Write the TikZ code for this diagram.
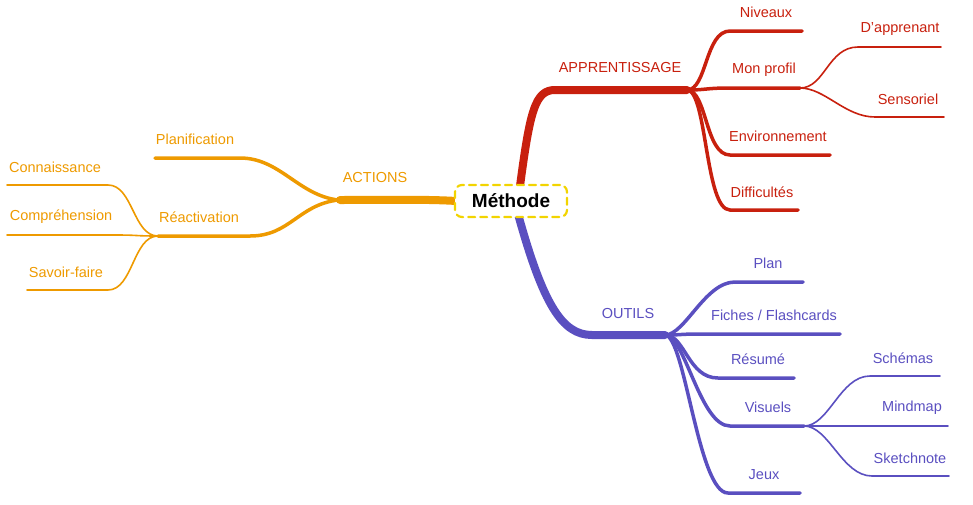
\documentclass[tikz,border=0pt]{standalone}
\usepackage{fontspec}
\setmainfont{Liberation Sans}
\definecolor{rd}{HTML}{C8200E}
\definecolor{og}{HTML}{EE9A00}
\definecolor{pu}{HTML}{5A4FC0}
\definecolor{yl}{HTML}{F2D400}
\begin{document}
\begin{tikzpicture}[x=1pt,y=-1pt,line cap=round,
 lbl/.style={font=\fontsize{14.5}{17}\selectfont,inner sep=1pt},
 main/.style={line width=8pt},
 sub/.style={line width=3.5pt},
 leaf/.style={line width=1.6pt}]
\useasboundingbox (0,0) rectangle (973,504);
\coordinate (cR) at (520,186); \coordinate (cO) at (456,201); \coordinate (cP) at (518,214);
\coordinate (aR) at (555,90); \coordinate (hR) at (687,90);
\coordinate (aO) at (340,200); \coordinate (hO) at (338,200);
\coordinate (aP) at (592,335); \coordinate (hP) at (665,335);
% RED
\draw[rd,main] (cR) .. controls +(10,-75) and +(-20,0) .. (aR) -- (hR);
\node[lbl,rd] (tApp) at (620,68) {APPRENTISSAGE};
\foreach \n/\y/\e/\tx/\ty/\t in {niv/31/802/766/12/Niveaux,mon/88/800/764/70/Mon profil,env/155/830/778/136/Environnement,dif/210/798/762/192/Difficultés}{
 \coordinate (s\n) at (730,\y); \coordinate (e\n) at (\e,\y);
 \draw[rd,sub] (hR) .. controls +(20,0) and +(-25,0) .. (s\n) -- (e\n);
 \node[lbl,rd] (t\n) at (\tx,\ty) {\t};}
\foreach \n/\x/\y/\e/\tx/\ty/\t in {dap/858/47/941/900/29/D'apprenant,sen/875/117/944/908/99/Sensoriel}{
 \coordinate (s\n) at (\x,\y); \coordinate (e\n) at (\e,\y);
 \draw[rd,leaf] (emon) .. controls +(25,0) and +(-30,0) .. (s\n) -- (e\n);
 \node[lbl,rd] (t\n) at (\tx,\ty) {\t};}
% ORANGE
\draw[og,main] (cO) .. controls +(-30,-2) and +(30,0) .. (aO);
\node[lbl,og] (tAct) at (375,178) {ACTIONS};
\coordinate (sPl) at (240,158); \coordinate (ePl) at (155,158);
\coordinate (sRe) at (250,236); \coordinate (eRe) at (158,236);
\draw[og,sub] (hO) .. controls +(-40,-5) and +(40,0) .. (sPl) -- (ePl);
\draw[og,sub] (hO) .. controls +(-40,5) and +(40,0) .. (sRe) -- (eRe);
\node[lbl,og] (tPl) at (195,139) {Planification};
\node[lbl,og] (tRe) at (199,217) {Réactivation};
\foreach \n/\x/\y/\e/\tx/\ty/\t in {con/108/185/7/55/167/Connaissance,com/115/235/7/61/217/Compréhension,sav/108/290/27/66/272/Savoir-faire}{
 \coordinate (s\n) at (\x,\y); \coordinate (e\n) at (\e,\y);
 \draw[og,leaf] (eRe) .. controls +(-25,0) and +(25,0) .. (s\n) -- (e\n);
 \node[lbl,og] (t\n) at (\tx,\ty) {\t};}
% PURPLE
\draw[pu,main] (cP) .. controls +(25,90) and +(-30,0) .. (aP) -- (hP);
\node[lbl,pu] (tOut) at (628,313) {OUTILS};
\foreach \n/\x/\y/\e/\tx/\ty/\t in {pla/735/282/803/768/263/Plan,fic/705/334/840/774/315/{Fiches / Flashcards},res/718/378/794/758/359/Résumé,vis/730/426/804/768/407/Visuels,jeu/728/493/800/764/475/Jeux}{
 \coordinate (s\n) at (\x,\y); \coordinate (e\n) at (\e,\y);
 \draw[pu,sub] (hP) .. controls +(20,0) and +(-30,0) .. (s\n) -- (e\n);
 \node[lbl,pu] (t\n) at (\tx,\ty) {\t};}
\foreach \n/\x/\y/\e/\tx/\ty/\t in {sch/870/376/940/903/358/Schémas,min/880/426/948/912/408/Mindmap,ske/872/476/949/910/458/Sketchnote}{
 \coordinate (s\n) at (\x,\y); \coordinate (e\n) at (\e,\y);
 \draw[pu,leaf] (evis) .. controls +(25,0) and +(-30,0) .. (s\n) -- (e\n);
 \node[lbl,pu] (t\n) at (\tx,\ty) {\t};}
% CENTER
\node[draw=yl,dash pattern=on 7pt off 5pt,line width=2.2pt,rounded corners=7pt,fill=white,
 font=\fontsize{19}{22}\selectfont\bfseries,minimum width=112pt,minimum height=32pt,inner sep=2pt] (root) at (511,201) {Méthode};
\end{tikzpicture}
\end{document}
